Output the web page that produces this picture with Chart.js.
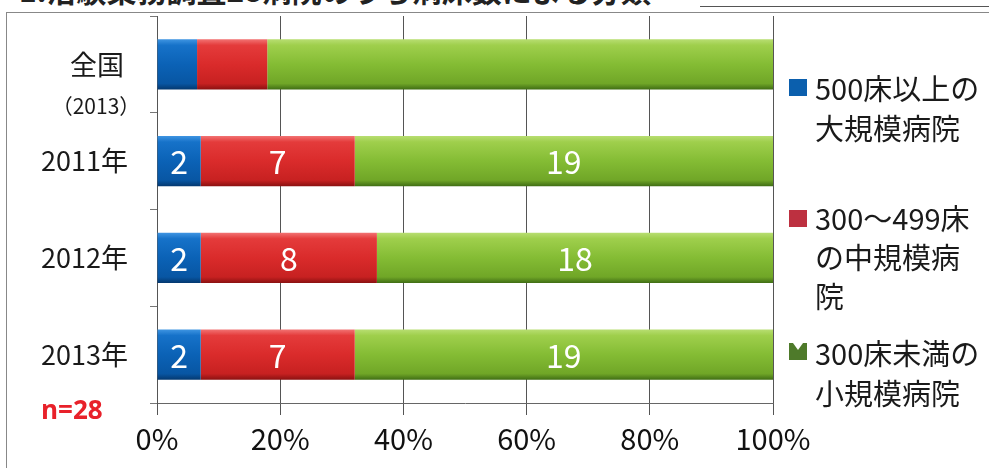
<!DOCTYPE html>
<html><head><meta charset="utf-8">
<script src="https://cdn.jsdelivr.net/npm/chart.js@4.4.1/dist/chart.umd.min.js"></script>
<style>
html,body{margin:0;padding:0;background:#fff;overflow:hidden;}
#wrap{position:relative;width:989px;height:468px;overflow:hidden;font-family:"Noto Sans CJK JP","Noto Sans",sans-serif;}
#title{position:absolute;left:4px;top:-26px;font-size:30px;line-height:30px;font-weight:bold;color:#222;white-space:nowrap;}
#tline{position:absolute;left:700px;top:6px;width:289px;height:1px;background:#555;}
#frameT{position:absolute;left:6px;top:12px;width:983px;height:1px;background:#888;}
#frameL{position:absolute;left:6px;top:12px;width:1px;height:456px;background:#888;}
canvas{position:absolute;left:0;top:0;}
.lg{position:absolute;left:815px;font-size:29px;line-height:40px;color:#1a1a1a;white-space:nowrap;}
.sq{position:absolute;left:789px;width:18px;height:17px;}
#n{position:absolute;left:41px;top:394px;font-size:26px;line-height:30px;font-weight:bold;color:#e8212a;font-family:"Open Sans","Noto Sans",sans-serif;}
</style></head>
<body><div id="wrap">
<div id="title">ｰ1.治験業務調査28病院のうち病床数による分類</div>
<div id="tline"></div>
<div id="frameT"></div><div id="frameL"></div>
<canvas id="c" width="989" height="468"></canvas>
<div class="sq" style="top:79px;background:#0b5fad"></div>
<div class="lg" style="top:67px">500床以上の<br>大規模病院</div>
<div class="sq" style="top:210px;background:#bd3040"></div>
<div class="lg" style="top:198px;line-height:39px">300～499床<br>の中規模病<br>院</div>
<div class="sq" style="top:343px;background:#4e7a2a;overflow:hidden"><div style="position:absolute;left:4px;top:0;width:0;height:0;border-left:5px solid transparent;border-right:5px solid transparent;border-top:7px solid #fff"></div></div>
<div class="lg" style="top:332px">300床未満の<br>小規模病院</div>
<div id="n">n=28</div>
</div>
<script>
const categories = ['全国', '2011年', '2012年', '2013年'];
const categorySub = ['（2013）', '', '', ''];
const seriesNames = ['500床以上の大規模病院', '300～499床の中規模病院', '300床未満の小規模病院'];
// share in percent of each category
const largeShare  = [6.5, 7.1, 7.1, 7.1];
const mediumShare = [11.4, 25.0, 28.6, 25.0];
const smallShare  = [82.1, 67.9, 64.3, 67.9];
// hospital counts shown inside bars
const largeCount  = ['', '2', '2', '2'];
const mediumCount = ['', '7', '8', '7'];
const smallCount  = ['', '19', '18', '19'];
const xTicks = [0, 20, 40, 60, 80, 100];

const stops = {
  large:  ['#3f95e2', '#1672c9', '#0b62b6', '#0856a3', '#04386f'],
  medium: ['#f27373', '#e43b3b', '#da2b2b', '#c72121', '#8a1111'],
  small:  ['#b8de72', '#9fcf4c', '#84bc34', '#70a627', '#3f6d14']
};
function grad(key){
  return function(ctx){
    const chart = ctx.chart;
    const s = stops[key];
    if (!chart.chartArea || !chart.scales.y) return s[2];
    const yc = chart.scales.y.getPixelForValue(ctx.dataIndex);
    const half = chart.scales.y.height / categories.length * 0.52 / 2;
    const g = chart.ctx.createLinearGradient(0, yc - half, 0, yc + half);
    g.addColorStop(0, s[0]); g.addColorStop(0.12, s[1]); g.addColorStop(0.5, s[2]);
    g.addColorStop(0.88, s[3]); g.addColorStop(1, s[4]);
    return g;
  };
}

const counts = [largeCount, mediumCount, smallCount];

const labelPlugin = {
  id: 'labels',
  afterDatasetsDraw(chart){
    const ctx = chart.ctx;
    ctx.save();
    ctx.fillStyle = '#ffffff';
    ctx.font = '32px "Noto Sans CJK JP", "Noto Sans", sans-serif';
    ctx.textAlign = 'center';
    ctx.textBaseline = 'middle';
    chart.data.datasets.forEach((ds, di) => {
      const meta = chart.getDatasetMeta(di);
      meta.data.forEach((el, i) => {
        const t = counts[di][i];
        if (!t) return;
        ctx.fillText(t, (el.x + el.base) / 2, el.y + 1);
      });
    });
    // category labels
    const ys = chart.scales.y;
    ctx.fillStyle = '#1a1a1a';
    categories.forEach((c, i) => {
      const y = ys.getPixelForValue(i);
      if (categorySub[i]) {
        ctx.textAlign = 'center';
        ctx.font = '27px "Noto Sans CJK JP", sans-serif';
        ctx.fillText(c, 97, y);
        ctx.font = '21px "Noto Sans CJK JP", sans-serif';
        ctx.fillText(categorySub[i], 96, y + 42);
      } else {
        ctx.textAlign = 'right';
        ctx.font = '27px "Noto Sans CJK JP", sans-serif';
        ctx.fillText(c, 128, y);
      }
    });
    ctx.restore();
  }
};

new Chart(document.getElementById('c'), {
  type: 'bar',
  data: {
    labels: categories,
    datasets: [
      { label: seriesNames[0], data: largeShare, backgroundColor: grad('large') },
      { label: seriesNames[1], data: mediumShare, backgroundColor: grad('medium') },
      { label: seriesNames[2], data: smallShare, backgroundColor: grad('small') }
    ]
  },
  options: {
    indexAxis: 'y',
    responsive: false,
    animation: false,
    events: [],
    layout: { padding: { left: 0, right: 216, top: 16, bottom: 0 } },
    datasets: { bar: { barPercentage: 0.52, categoryPercentage: 1, borderWidth: 0 } },
    plugins: { legend: { display: false }, tooltip: { enabled: false }, title: { display: false } },
    scales: {
      x: {
        stacked: true, min: 0, max: 100,
        afterBuildTicks(scale){ scale.ticks = xTicks.map(v => ({ value: v })); },
        afterFit(scale){ scale.height = 65; },
        ticks: {
          callback: v => v + '%',
          color: '#111',
          font: { family: '"Noto Sans CJK JP", "Noto Sans", sans-serif', size: 29 },
          padding: 7,
          maxRotation: 0
        },
        grid: { color: '#555', lineWidth: 1, tickLength: 12, drawTicks: true },
        border: { color: '#666', width: 1 }
      },
      y: {
        stacked: true,
        afterFit(scale){ scale.width = 157; },
        ticks: { callback: () => '', padding: 0 },
        grid: { drawOnChartArea: false, offset: true, tickLength: 7, color: '#777' },
        border: { color: '#555', width: 1 }
      }
    }
  },
  plugins: [labelPlugin]
});
</script>
</body></html>
